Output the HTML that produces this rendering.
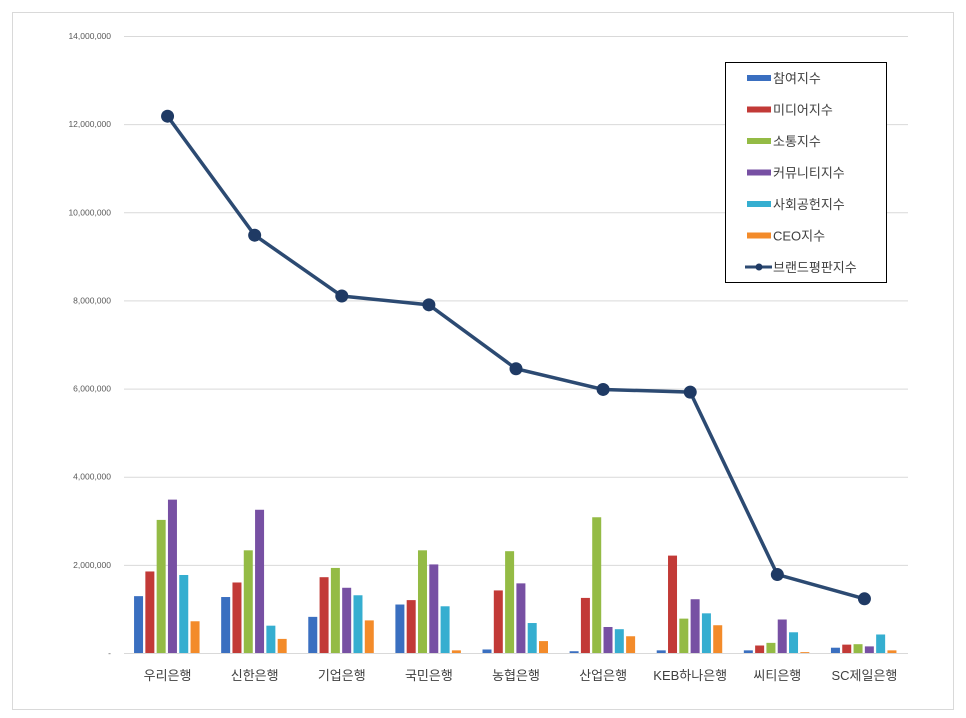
<!DOCTYPE html>
<html><head><meta charset="utf-8"><style>
body{margin:0;background:#fff;}
svg{display:block;font-family:"Liberation Sans","Noto Sans CJK KR",sans-serif;}
</style></head><body>
<svg id="chart" width="966" height="718">
<rect x="12.5" y="12.5" width="941" height="697" fill="#fff" stroke="#d9d9d9"/>
<g id="grid"></g><g id="bars"></g><g id="line"></g><g id="labels"></g>
<g>
<rect x="725.5" y="62.5" width="161" height="220" fill="#fff" stroke="#000"/>
<g id="legend"></g>
</g>
</svg>
<script>
const categories=["우리은행","신한은행","기업은행","국민은행","농협은행","산업은행","KEB하나은행","씨티은행","SC제일은행"];
const seriesNames=["참여지수","미디어지수","소통지수","커뮤니티지수","사회공헌지수","CEO지수"];
const participation=[1.29,1.27,0.82,1.10,0.08,0.04,0.06,0.06,0.12];
const media=[1.85,1.60,1.72,1.20,1.42,1.25,2.21,0.17,0.19];
const communication=[3.02,2.33,1.93,2.33,2.31,3.08,0.78,0.23,0.20];
const community=[3.48,3.25,1.48,2.01,1.58,0.59,1.22,0.76,0.15];
const social=[1.77,0.62,1.31,1.06,0.68,0.54,0.90,0.47,0.42];
const ceo=[0.72,0.32,0.74,0.06,0.27,0.38,0.63,0.02,0.06];
const brand=[12.18,9.48,8.10,7.90,6.45,5.98,5.92,1.78,1.23];
const yTicks=[0,2,4,6,8,10,12,14];
const yTickLabels=["-","2,000,000","4,000,000","6,000,000","8,000,000","10,000,000","12,000,000","14,000,000"];
const colors=["#3a6fc0","#c23a37","#94bb45","#7750a3","#35aed0","#f38b2a"];
const series=[participation,media,communication,community,social,ceo];
const NS="http://www.w3.org/2000/svg";
const x0=124,x1=908,y0=653,yTop=36;
const bw=(x1-x0)/categories.length;
const y=v=>y0-(v/14)*(y0-yTop);
const xc=i=>x0+bw*(i+0.5);
function mk(t,a,p){const e=document.createElementNS(NS,t);for(const k in a)e.setAttribute(k,a[k]);p.appendChild(e);return e;}
const grid=document.getElementById('grid');
yTicks.forEach((t,i)=>{
 const l=mk('line',{x1:x0,x2:x1,y1:y(t)+.5,y2:y(t)+.5,stroke:'#d9d9d9'},grid);
 
 
 const tx=mk('text',{x:111,y:y(t)+3,'text-anchor':'end','font-size':8.5,fill:'#595959'},grid);
 tx.textContent=yTickLabels[i];
 
 
});
const bars=document.getElementById('bars');
series.forEach((s,j)=>{s.forEach((v,i)=>{
 const r=mk('rect',{x:xc(i)-33.5+j*11.3,y:y(v),width:9,height:y0-y(v),fill:colors[j]},bars);
 
 
});});
const lg=document.getElementById('line');
const pl=mk('polyline',{points:brand.map((v,i)=>xc(i)+','+y(v)).join(' '),fill:'none',stroke:'#2c4a72','stroke-width':3.5},lg);


brand.forEach((v,i)=>{const c=mk('circle',{cx:xc(i),cy:y(v),r:6.5,fill:'#1f3a64'},lg);
 
 });
const lb=document.getElementById('labels');
categories.forEach((c,i)=>{const t=mk('text',{x:xc(i),y:680,'text-anchor':'middle','font-size':13,fill:'#404040'},lb);
 t.textContent=c;
 
 });
const leg=document.getElementById('legend');
seriesNames.concat(["브랜드평판지수"]).forEach((n,j)=>{
 const yy=78+j*31.5;
 if(j<6){mk('rect',{x:747,y:yy-3,width:24,height:6,fill:colors[j]},leg);}
 else{mk('line',{x1:745,x2:772,y1:yy,y2:yy,stroke:'#2c4a72','stroke-width':3},leg);mk('circle',{cx:759,cy:yy,r:3.5,fill:'#1f3a64'},leg);}
 const t=mk('text',{x:773,y:yy+5,'font-size':13,fill:'#404040'},leg);
 t.textContent=n;
 
 
});
</script>
</body></html>
